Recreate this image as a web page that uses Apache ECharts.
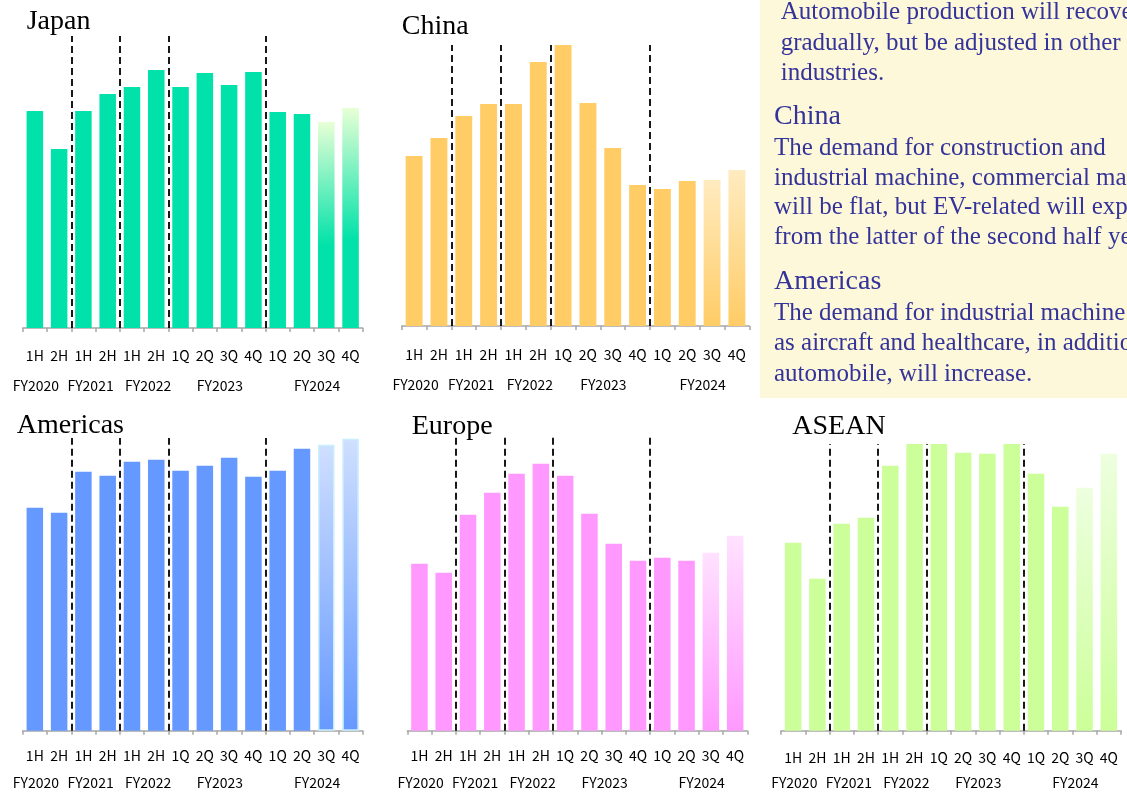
<!DOCTYPE html>
<html><head><meta charset="utf-8">
<script src="https://cdn.jsdelivr.net/npm/echarts@6/dist/echarts.min.js"></script>
<style>html,body{margin:0;padding:0;background:#fff}#c{width:1127px;height:793px}</style>
</head><body><div id="c"></div>
<script>
// ---- data ----
const periods = ['1H','2H','1H','2H','1H','2H','1Q','2Q','3Q','4Q','1Q','2Q','3Q','4Q'];
const fiscalYears = ['FY2020','FY2021','FY2022','FY2023','FY2024'];
const periodsPerYear = [2, 2, 2, 4, 4];
const forecastFrom = 12; // FY2024 3Q, 4Q are forecasts
const japan    = [217, 179, 217, 234, 241, 258, 241, 255, 243, 256, 216, 214, 206, 220];
const china    = [170, 188, 210, 222, 222, 264, 286, 223, 178, 141, 137, 145, 146, 156];
const americas = [223, 218, 259, 255, 269, 271, 260, 265, 273, 254, 260, 282, 286, 292];
const europe   = [167, 158, 216, 238, 257, 267, 255, 217, 187, 170, 173, 170, 178, 195];
const asean    = [188, 152, 207, 213, 265, 288, 287, 278, 277, 290, 257, 224, 243, 277];
const chartNames = ['Japan', 'China', 'Americas', 'Europe', 'ASEAN'];
const commentary = [
  { head: null, lines: ['Automobile production will recover', 'gradually, but be adjusted in other', 'industries.'] },
  { head: 'China', lines: ['The demand for construction and', 'industrial machine, commercial machine', 'will be flat, but EV-related will expand', 'from the latter of the second half year.'] },
  { head: 'Americas', lines: ['The demand for industrial machine such', 'as aircraft and healthcare, in addition to', 'automobile, will increase.'] }
];

// ---- layout / style ----
const panels = [
  { name: chartNames[0], data: japan,    color: '#00E2A9', light: '#E8FFD6', stop: 0.6, left: 22.7, width: 340,   top: 36,  height: 292,   lm: 21, fm: 50.5, tx: 26.7, ty: 8 },
  { name: chartNames[1], data: china,    color: '#FFCC66', light: '#FFEBC0', stop: 1.0, left: 401.7, width: 347.6, top: 45, height: 281,   lm: 21.5, fm: 51.5, tx: 401.7, ty: 12.5 },
  { name: chartNames[2], data: americas, color: '#6699FF', light: '#CFDFFF', stop: 1.0, left: 22.7, width: 340,   top: 438, height: 292.7, lm: 18, fm: 44.5, tx: 16.7, ty: 411.5, border: '#C8EEFF' },
  { name: chartNames[3], data: europe,   color: '#FF99FF', light: '#FFE2FF', stop: 1.0, left: 407.3, width: 340,  top: 436, height: 294.7, lm: 18, fm: 44.5, tx: 411.7, ty: 412.5 },
  { name: chartNames[4], data: asean,    color: '#CCFF99', light: '#EDFFDF', stop: 1.0, left: 781, width: 340,    top: 444, height: 286.7, lm: 19.5, fm: 44.5, tx: 792.3, ty: 412.5 }
];
const fyShift = [-11, -5, 4, 3, 3]; // horizontal nudge of fiscal-year labels (px)

const labelFont = '"Noto Sans CJK JP", "Noto Sans", sans-serif';
const serif = '"Liberation Serif", "Times New Roman", serif';

// separators & fiscal-year label centres from group sizes
const sepIdx = [];
const fyCenter = {};
let acc = 0;
periodsPerYear.forEach((n, i) => {
  fyCenter[acc + n / 2] = i;
  acc += n;
  if (i < periodsPerYear.length - 1) sepIdx.push(acc);
});
const fyRich = {};
fyShift.forEach((s, i) => {
  fyRich['s' + i] = { fontFamily: labelFont, fontSize: 14, color: '#000', lineHeight: 14,
    padding: s < 0 ? [0, -2 * s, 0, 0] : [0, 0, 0, 2 * s] };
});

const grid = [], xAxis = [], yAxis = [], series = [], graphic = [];
panels.forEach((p, k) => {
  grid.push({ left: p.left, top: p.top, width: p.width, height: p.height, containLabel: false, outerBoundsMode: 'none' });
  xAxis.push({
    type: 'category', gridIndex: k, data: periods, position: 'bottom',
    axisLine: { show: true, lineStyle: { color: '#A6A6A6', width: 1.5 } },
    axisTick: { show: true, length: 4, alignWithLabel: false, lineStyle: { color: '#A6A6A6', width: 1.5 } },
    axisLabel: { interval: 0, margin: p.lm, fontFamily: labelFont, fontSize: 14, color: '#000' },
    splitLine: { show: false }
  });
  xAxis.push({
    type: 'value', gridIndex: k, min: 0, max: periods.length, interval: 1, position: 'bottom',
    axisLine: { show: false }, axisTick: { show: false }, splitLine: { show: false },
    axisLabel: { margin: p.fm, fontFamily: labelFont, fontSize: 14, color: '#000', showMinLabel: true, showMaxLabel: true,
      rich: fyRich,
      formatter: (v) => (v in fyCenter) ? '{s' + fyCenter[v] + '|' + fiscalYears[fyCenter[v]] + '}' : '' }
  });
  yAxis.push({ type: 'value', gridIndex: k, min: 0, max: p.height, show: false, splitLine: { show: false } });
  series.push({
    type: 'bar', xAxisIndex: 2 * k, yAxisIndex: k, barWidth: '68%', silent: true,
    itemStyle: { color: p.color },
    data: p.data.map((v, i) => i >= forecastFrom ? {
      value: v,
      itemStyle: {
        color: { type: 'linear', x: 0, y: 0, x2: 0, y2: 1, colorStops: [
          { offset: 0, color: p.light }, { offset: p.stop, color: p.color }, { offset: 1, color: p.color }] },
        borderColor: p.border || 'transparent', borderWidth: p.border ? 1.5 : 0
      }
    } : v)
  });
  // fiscal-year separators on the hidden value axis
  series.push({
    type: 'line', xAxisIndex: 2 * k + 1, yAxisIndex: k, data: [], silent: true, z: 5,
    markLine: {
      silent: true, symbol: 'none', animation: false,
      label: { show: false },
      lineStyle: { type: [7, 4], color: '#000', width: 1.8 },
      data: sepIdx.map((s) => ({ xAxis: s }))
    }
  });
  graphic.push({ type: 'text', x: p.tx, y: p.ty, style: { text: p.name, font: '28px ' + serif, fill: '#000', align: 'left', verticalAlign: 'top' } });
});

// commentary box
graphic.push({ type: 'rect', x: 760, y: 0, shape: { width: 367, height: 398 }, style: { fill: '#FEF8DA' }, z: -1 });
const bodyFont = '25px ' + serif;
const headFont = '28px ' + serif;
const textColor = '#333399';
const blocks = [
  { x: 780.7, headY: null, bodyY: -2.5, lh: 30.5 },
  { x: 774, headY: 103, bodyY: 134, lh: 29.5 },
  { x: 774, headY: 267.5, bodyY: 298, lh: 30.5 }
];
commentary.forEach((c, i) => {
  const b = blocks[i];
  if (c.head) graphic.push({ type: 'text', x: b.x, y: b.headY, style: { text: c.head, font: headFont, fill: textColor, align: 'left', verticalAlign: 'top' } });
  graphic.push({ type: 'text', x: b.x, y: b.bodyY, style: { text: c.lines.join('\n'), font: bodyFont, lineHeight: b.lh, fill: textColor, align: 'left', verticalAlign: 'top' } });
});

const chart = echarts.init(document.getElementById('c'), null, { renderer: 'canvas' });
chart.setOption({ animation: false, backgroundColor: '#fff', grid, xAxis, yAxis, series, graphic });
</script></body></html>
